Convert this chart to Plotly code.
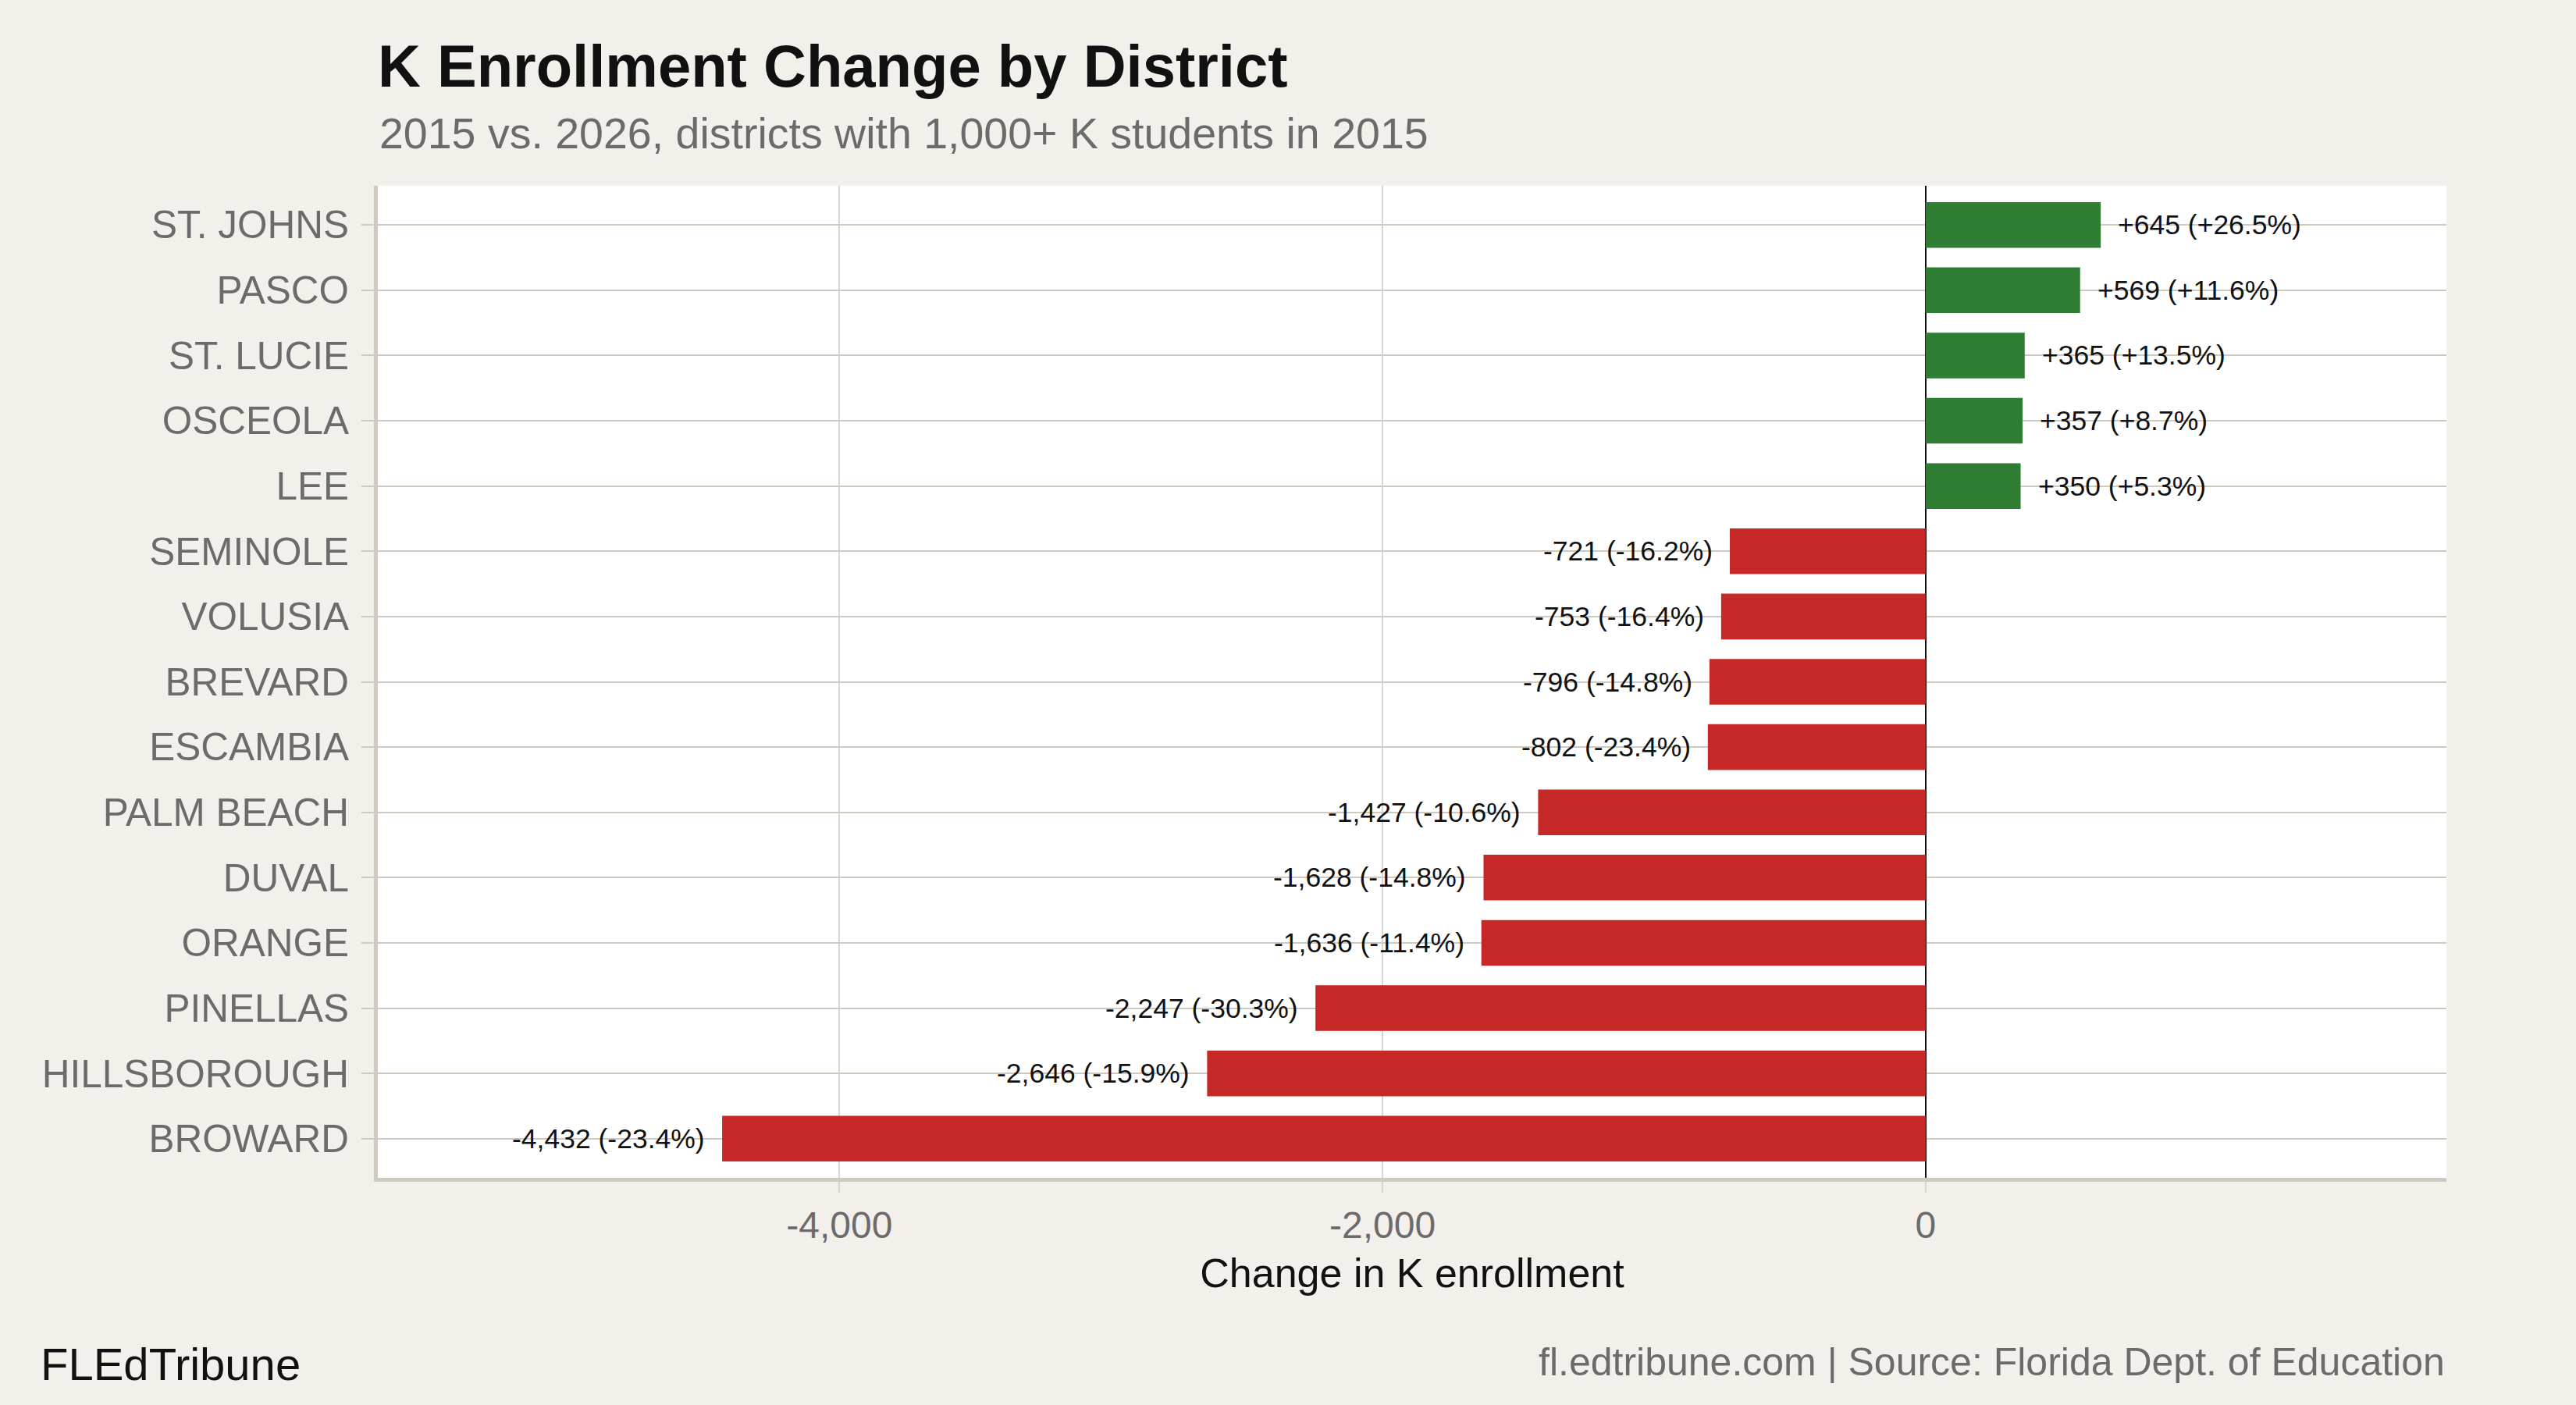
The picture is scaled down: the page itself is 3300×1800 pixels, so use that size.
import plotly.graph_objects as go

districts = ["ST. JOHNS", "PASCO", "ST. LUCIE", "OSCEOLA", "LEE", "SEMINOLE", "VOLUSIA",
             "BREVARD", "ESCAMBIA", "PALM BEACH", "DUVAL", "ORANGE", "PINELLAS",
             "HILLSBOROUGH", "BROWARD"]
change = [645, 569, 365, 357, 350, -721, -753, -796, -802, -1427, -1628, -1636, -2247, -2646, -4432]
pct_change = [26.5, 11.6, 13.5, 8.7, 5.3, -16.2, -16.4, -14.8, -23.4, -10.6, -14.8, -11.4, -30.3, -15.9, -23.4]
x_ticks = [-4000, -2000, 0]

GREEN = "#2E7D32"
RED = "#C62828"
BG = "#F3F0EB"
FONT = "Liberation Sans, Arial, Helvetica, sans-serif"

colors = [GREEN if v >= 0 else RED for v in change]

fig = go.Figure()
fig.add_trace(go.Bar(
    x=change, y=districts, orientation="h",
    marker=dict(color=colors, line=dict(width=0)),
    width=0.7, hoverinfo="skip",
))

annotations = []
for d, v, p in zip(districts, change, pct_change):
    label = f"{v:+,} ({p:+.1f}%)"
    annotations.append(dict(
        x=v, y=d, xref="x", yref="y", text=label, showarrow=False,
        xanchor="left" if v >= 0 else "right",
        xshift=20 if v >= 0 else -20,
        font=dict(family=FONT, size=35.5, color="#111111"),
    ))

annotations += [
    dict(text="2015 vs. 2026, districts with 1,000+ K students in 2015",
         xref="paper", yref="paper", x=0, y=1, xanchor="left", yanchor="middle",
         yshift=238 - 171, showarrow=False,
         font=dict(family=FONT, size=55.5, color="#6B6B6B")),
    dict(text="FLEdTribune", xref="paper", yref="paper", x=(50 - 484) / 2650, y=0,
         xanchor="left", yanchor="middle", yshift=-(1747 - 1509), showarrow=False,
         font=dict(family=FONT, size=58, color="#111111")),
    dict(text="fl.edtribune.com | Source: Florida Dept. of Education",
         xref="paper", yref="paper", x=1, y=0, xanchor="right", yanchor="middle",
         yshift=-(1745 - 1509), showarrow=False,
         font=dict(family=FONT, size=50, color="#6B6B6B")),
]

fig.update_layout(
    width=3300, height=1800,
    paper_bgcolor=BG, plot_bgcolor="white",
    margin=dict(l=484, r=166, t=238, b=291),
    showlegend=False,
    font=dict(family=FONT),
    title=dict(text="K Enrollment Change by District",
               font=dict(family=FONT, size=76, color="#111111", weight=700),
               xref="paper", x=0, xanchor="left",
               yref="container", y=1 - 84 / 1800, yanchor="middle"),
    annotations=annotations,
    xaxis=dict(
        range=[-5700, 1918],
        tickvals=x_ticks,
        ticktext=[f"{t:,}" for t in x_ticks],
        showgrid=True, gridcolor="#D6D6D6", gridwidth=2,
        zeroline=True, zerolinecolor="#111111", zerolinewidth=2,
        showline=True, linecolor="#CFC9BF", linewidth=5,
        ticks="outside", ticklen=14, tickwidth=2, tickcolor="#D6D6D6",
        tickfont=dict(family=FONT, size=48, color="#6B6B6B"),
        title=dict(text="Change in K enrollment",
                   font=dict(family=FONT, size=52, color="#111111"), standoff=20),
        fixedrange=True,
    ),
    yaxis=dict(
        type="category",
        categoryorder="array", categoryarray=districts,
        range=[14.6, -0.6],
        showgrid=True, gridcolor="#CFC9BF", gridwidth=2,
        showline=True, linecolor="#CFC9BF", linewidth=5,
        ticks="outside", ticklen=16, tickwidth=2, tickcolor="#CFC9BF",
        tickfont=dict(family=FONT, size=49.5, color="#6B6B6B"),
        ticklabelstandoff=6,
        fixedrange=True,
    ),
)

fig.write_html(
    "out.html",
    config={"displayModeBar": False},
    post_script="document.body.style.margin='0';document.body.style.background='%s';" % BG,
)
